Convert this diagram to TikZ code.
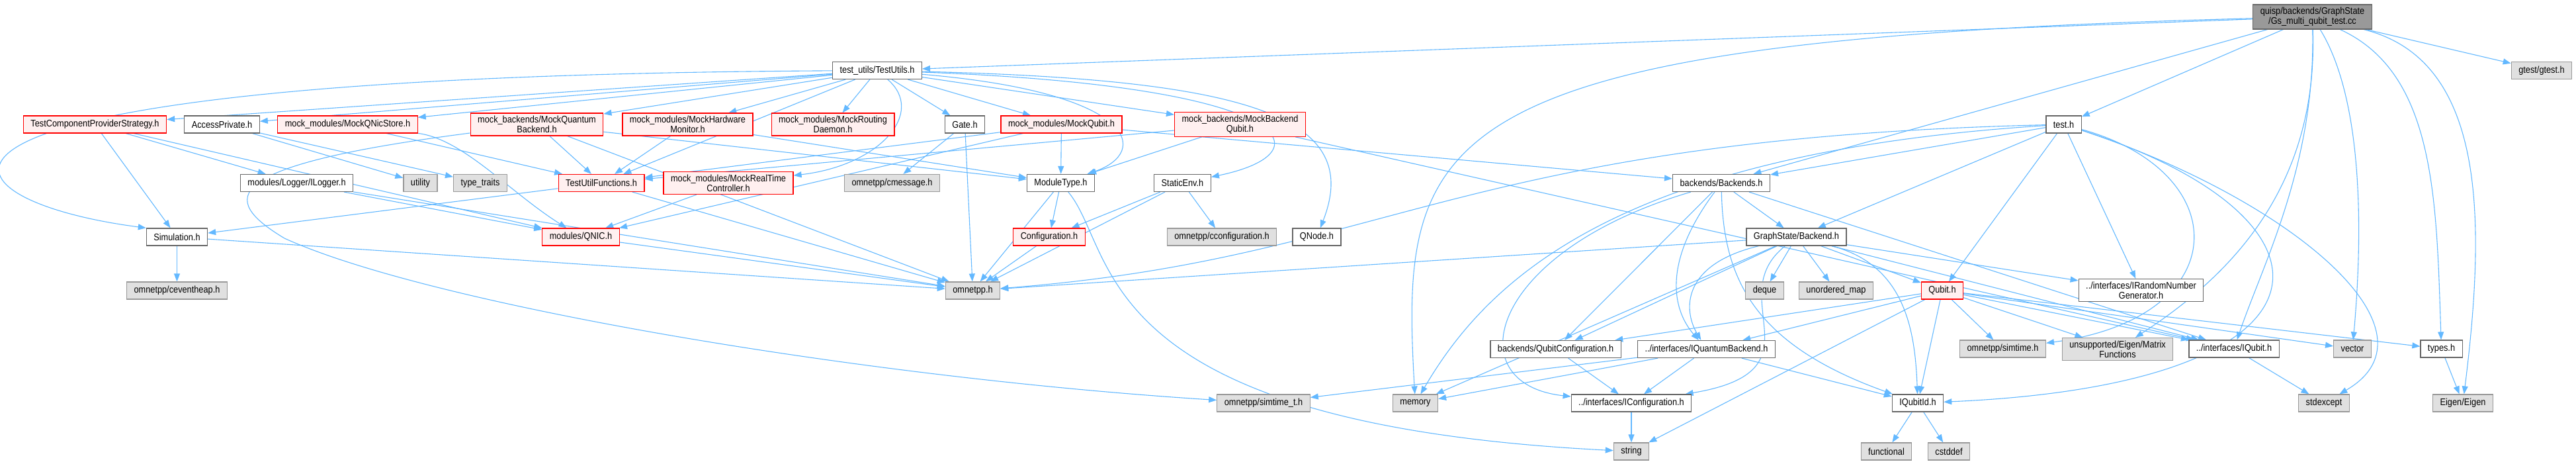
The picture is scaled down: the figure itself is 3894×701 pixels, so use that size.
\documentclass[tikz,border=0pt]{standalone}
\usepackage{fontspec}
\setmainfont{Liberation Sans}[FakeStretch=0.88]
\usetikzlibrary{arrows.meta, backgrounds}
\definecolor{depblue}{HTML}{63B8FF}
\definecolor{trunc}{HTML}{FF0000}
\definecolor{truncfill}{HTML}{FFF0F0}
\definecolor{sysfill}{HTML}{E0E0E0}
\definecolor{sysline}{HTML}{999999}
\definecolor{fileline}{HTML}{666666}
\tikzset{
  hd/.style={rectangle, line width=1.2pt, inner xsep=11pt, inner ysep=4pt,
             minimum height=26pt, align=center, text=black,
             font=\fontsize{14.5}{15.3}\selectfont},
  fh/.style={hd, draw=fileline, fill=white},
  th/.style={hd, draw=trunc, fill=truncfill},
  sh/.style={hd, draw=sysline, fill=sysfill},
  rt/.style={hd, draw=fileline, fill=sysline},
  dp/.style={-{Triangle[length=12pt, width=9pt]}, depblue, line width=1.1pt},
}

\begin{document}
\begin{tikzpicture}[x=1pt, y=-1pt]
  \useasboundingbox (0,0) rectangle (3894,701);
  % top
  \node[rt] (main) at (3495.5,25.5) {quisp/backends/GraphState\\/Gs\_multi\_qubit\_test.cc};
  \node[fh] (tu) at (1326,106.5) {test\_utils/TestUtils.h};
  \node[sh] (gtest) at (3842,106.5) {gtest/gtest.h};
  % row 2
  \node[th] (tcps) at (143.5,188) {TestComponentProviderStrategy.h};
  \node[fh] (acc) at (335.5,188) {AccessPrivate.h};
  \node[th] (mqns) at (525.5,188) {mock\_modules/MockQNicStore.h};
  \node[th] (mqb) at (811.5,188) {mock\_backends/MockQuantum\\Backend.h};
  \node[th] (mhm) at (1039.5,188) {mock\_modules/MockHardware\\Monitor.h};
  \node[th] (mrd) at (1259,188) {mock\_modules/MockRouting\\Daemon.h};
  \node[fh] (gate) at (1458.5,188) {Gate.h};
  \node[th] (mq) at (1604.5,188) {mock\_modules/MockQubit.h};
  \node[th] (mbq) at (1874.5,188) {mock\_backends/MockBackend\\Qubit.h};
  \node[fh] (testh) at (3119.5,188) {test.h};
  % row 3
  \node[fh] (ilog) at (448.5,276.5) {modules/Logger/ILogger.h};
  \node[sh] (util) at (635.5,276.5) {utility};
  \node[sh] (tt) at (726,276.5) {type\_traits};
  \node[th] (tuf) at (909,276.5) {TestUtilFunctions.h};
  \node[th] (mrtc) at (1101,276.5) {mock\_modules/MockRealTime\\Controller.h};
  \node[sh] (cmsg) at (1348.5,276.5) {omnetpp/cmessage.h};
  \node[fh] (mt) at (1603.5,276.5) {ModuleType.h};
  \node[fh] (senv) at (1787.5,276.5) {StaticEnv.h};
  \node[fh] (bks) at (2602,276.5) {backends/Backends.h};
  % row 4
  \node[fh] (sim) at (267.5,358) {Simulation.h};
  \node[th] (qnic) at (878,358) {modules/QNIC.h};
  \node[th] (conf) at (1586,358) {Configuration.h};
  \node[sh] (cconf) at (1847,358) {omnetpp/cconfiguration.h};
  \node[fh] (qnode) at (1990.5,358) {QNode.h};
  \node[fh] (gsb) at (2715.5,358) {GraphState/Backend.h};
  % row 5
  \node[sh] (heap) at (267.5,439) {omnetpp/ceventheap.h};
  \node[sh] (omn) at (1470.5,439) {omnetpp.h};
  \node[sh] (deque) at (2667.5,439) {deque};
  \node[sh] (umap) at (2775.5,439) {unordered\_map};
  \node[th] (qubit) at (2936,439) {Qubit.h};
  \node[fh] (irng) at (3236.5,438.5) {../interfaces/IRandomNumber\\Generator.h};
  % row 6
  \node[fh] (qconf) at (2351.5,527.5) {backends/QubitConfiguration.h};
  \node[fh] (iqb) at (2579.5,527.5) {../interfaces/IQuantumBackend.h};
  \node[sh] (simt) at (3027.5,527) {omnetpp/simtime.h};
  \node[sh] (mfun) at (3201,527.5) {unsupported/Eigen/Matrix\\Functions};
  \node[fh] (iqubit) at (3377,527) {../interfaces/IQubit.h};
  \node[sh] (vec) at (3556,527) {vector};
  \node[fh] (types) at (3690.5,527) {types.h};
  % row 7
  \node[sh] (simtt) at (1910,609) {omnetpp/simtime\_t.h};
  \node[sh] (mem) at (2139.5,609) {memory};
  \node[fh] (iconf) at (2466,609) {../interfaces/IConfiguration.h};
  \node[fh] (iqid) at (2899,609) {IQubitId.h};
  \node[sh] (stdex) at (3513,609) {stdexcept};
  \node[sh] (eig) at (3723,609) {Eigen/Eigen};
  % row 8
  \node[sh] (str) at (2466,682) {string};
  \node[sh] (func) at (2851.5,682) {functional};
  \node[sh] (cstd) at (2946,682) {cstddef};

  \begin{pgfonlayer}{background}
    % from the test file
    \draw[dp] (main) -- (tu);
    \draw[dp] (main) -- (bks);
    \draw[dp] (main) -- (testh);
    \draw[dp] (main) -- (gtest);
    \draw[dp] (main) .. controls (2150,60) and (2116,200) .. (mem);
    \draw[dp] (main) .. controls (3572,150) and (3572,350) .. (vec);
    \draw[dp] (main) .. controls (3681,110) and (3683,300) .. (types);
    \draw[dp] (main) .. controls (3758,90) and (3758,330) .. (eig);
    \draw[dp] (main) .. controls (3500,250) and (3420,400) .. (iqubit);
    \draw[dp] (main) .. controls (3505,300) and (3350,430) .. (mfun);
    % test_utils
    \draw[dp] (tu) -- (tcps);
    \draw[dp] (tu) -- (acc);
    \draw[dp] (tu) -- (mqns);
    \draw[dp] (tu) -- (mqb);
    \draw[dp] (tu) -- (mhm);
    \draw[dp] (tu) -- (mrd);
    \draw[dp] (tu) -- (gate);
    \draw[dp] (tu) -- (mq);
    \draw[dp] (tu) -- (mbq);
    \draw[dp] (tu) -- (tuf);
    \draw[dp] (tu) .. controls (-250,115) and (-120,300) .. (sim.north west);
    \draw[dp] (tu) .. controls (1720,140) and (1740,230) .. (mt);
    \draw[dp] (tu) .. controls (1900,120) and (2060,180) .. (qnode);
    \draw[dp] (tu) .. controls (1960,130) and (2010,230) .. (senv);
    \draw[dp] (tu) .. controls (1400,170) and (1330,250) .. (mrtc);
    % mocks and helpers
    \draw[dp] (tcps) -- (sim);
    \draw[dp] (tcps) -- (ilog);
    \draw[dp] (tcps) -- (qnic);
    \draw[dp] (acc) -- (util);
    \draw[dp] (acc) -- (tt);
    \draw[dp] (mqns) -- (tuf);
    \draw[dp] (mqns) .. controls (700,210) and (770,290) .. (qnic);
    \draw[dp] (mqb) -- (tuf);
    \draw[dp] (mqb) -- (mt);
    \draw[dp] (mqb) -- (omn);
    \draw[dp] (mqb) .. controls (330,250) and (330,300) .. (430,360)
      .. controls (650,460) and (1300,570) .. (simtt);
    \draw[dp] (mhm) -- (tuf);
    \draw[dp] (mhm) -- (mt);
    \draw[dp] (gate) -- (cmsg);
    \draw[dp] (gate) -- (omn);
    \draw[dp] (mq) -- (mt);
    \draw[dp] (mq) -- (qnic);
    \draw[dp] (mq) -- (tuf);
    \draw[dp] (mq) -- (bks);
    \draw[dp] (mbq) -- (tuf);
    \draw[dp] (mbq) -- (mt);
    \draw[dp] (mbq) -- (iqubit);
    \draw[dp] (ilog) -- (qnic);
    \draw[dp] (ilog) -- (omn);
    \draw[dp] (tuf) -- (sim);
    \draw[dp] (tuf) -- (omn);
    \draw[dp] (mrtc) -- (qnic);
    \draw[dp] (mt) -- (conf);
    \draw[dp] (mt) -- (omn);
    \draw[dp] (mt) .. controls (1690,380) and (1640,640) .. (str);
    \draw[dp] (senv) -- (conf);
    \draw[dp] (senv) -- (cconf);
    \draw[dp] (senv) -- (omn);
    \draw[dp] (conf) -- (omn);
    \draw[dp] (sim) -- (heap);
    \draw[dp] (sim) -- (omn);
    \draw[dp] (qnic) -- (omn);
    % test.h
    \draw[dp] (testh) -- (bks);
    \draw[dp] (testh) -- (gsb);
    \draw[dp] (testh) -- (qubit);
    \draw[dp] (testh) -- (irng);
    \draw[dp] (testh) .. controls (2200,210) and (2100,390) .. (omn);
    \draw[dp] (testh) .. controls (2450,230) and (2250,420) .. (mem);
    \draw[dp] (testh) .. controls (3380,260) and (3380,480) .. (simt);
    \draw[dp] (testh) .. controls (3560,330) and (3560,580) .. (iqid);
    \draw[dp] (testh) .. controls (3460,300) and (3700,500) .. (stdex);
    % backends
    \draw[dp] (bks) -- (gsb);
    \draw[dp] (bks) -- (qconf);
    \draw[dp] (bks) -- (iqubit);
    \draw[dp] (bks) .. controls (2250,380) and (2200,580) .. (iconf);
    \draw[dp] (bks) .. controls (2510,400) and (2530,470) .. (iqb);
    \draw[dp] (bks) .. controls (2605,420) and (2650,520) .. (iqid);
    \draw[dp] (gsb) -- (deque);
    \draw[dp] (gsb) -- (umap);
    \draw[dp] (gsb) -- (qubit);
    \draw[dp] (gsb) -- (irng);
    \draw[dp] (gsb) -- (omn);
    \draw[dp] (gsb) -- (mem);
    \draw[dp] (gsb) -- (qconf);
    \draw[dp] (gsb) -- (iqubit);
    \draw[dp] (gsb) .. controls (2540,400) and (2545,470) .. (iqb);
    \draw[dp] (gsb) .. controls (2600,450) and (2760,560) .. (iconf);
    \draw[dp] (gsb) .. controls (2880,400) and (2895,500) .. (iqid);
    % qubit
    \draw[dp] (qubit) -- (simt);
    \draw[dp] (qubit) -- (mfun);
    \draw[dp] (qubit) -- (iqubit);
    \draw[dp] (qubit) -- (vec);
    \draw[dp] (qubit) -- (types);
    \draw[dp] (qubit) -- (iqid);
    \draw[dp] (qubit) -- (qconf);
    \draw[dp] (qubit) -- (iqb);
    \draw[dp] (qubit) -- (str);
    % interfaces
    \draw[dp] (iqb) -- (simtt);
    \draw[dp] (iqb) -- (mem);
    \draw[dp] (iqb) -- (iconf);
    \draw[dp] (iqb) -- (iqid);
    \draw[dp] (qconf) -- (iconf);
    \draw[dp] (iconf) -- (str);
    \draw[dp] (iqid) -- (func);
    \draw[dp] (iqid) -- (cstd);
    \draw[dp] (iqubit) -- (stdex);
    \draw[dp] (types) -- (eig);
  \end{pgfonlayer}
\end{tikzpicture}
\end{document}
